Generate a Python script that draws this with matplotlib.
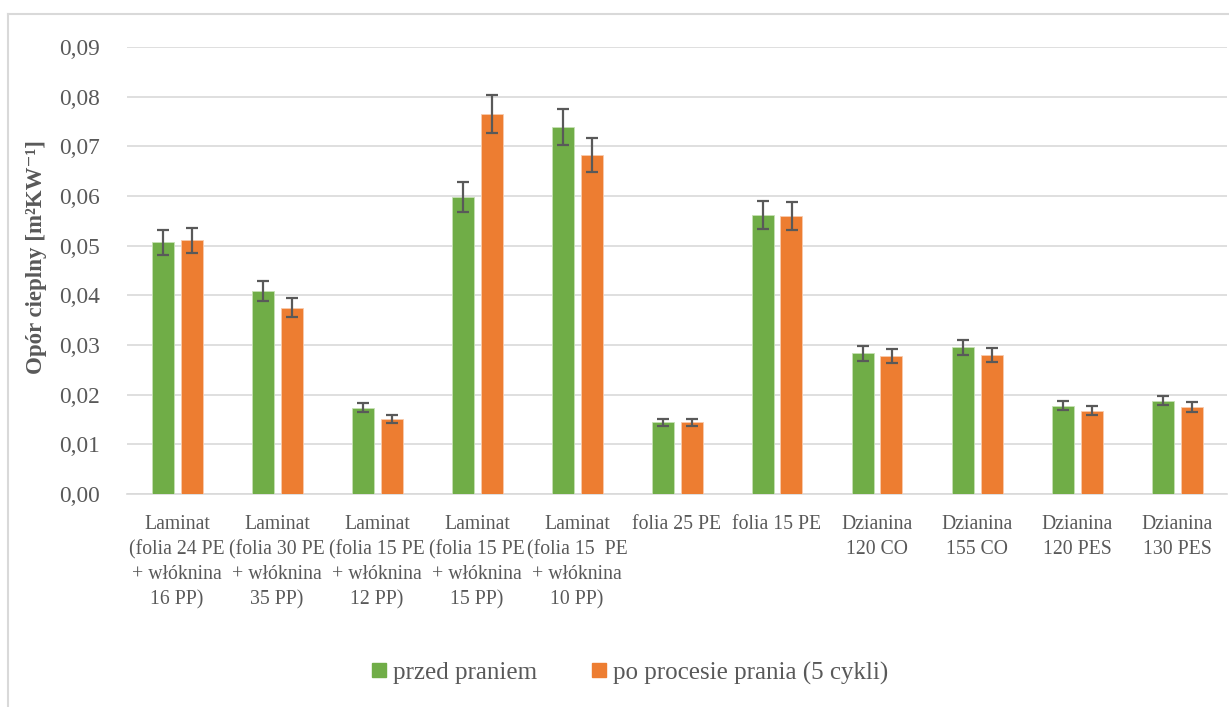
import matplotlib
matplotlib.use("Agg")
import matplotlib.pyplot as plt
from matplotlib.lines import Line2D
import numpy as np

plt.rcParams['font.family'] = ['Liberation Serif', 'DejaVu Serif']

# data
labels = ["Laminat\n(folia 24 PE\n+ włóknina\n16 PP)",
          "Laminat\n(folia 30 PE\n+ włóknina\n35 PP)",
          "Laminat\n(folia 15 PE\n+ włóknina\n12 PP)",
          "Laminat\n(folia 15 PE\n+ włóknina\n15 PP)",
          "Laminat\n(folia 15  PE\n+ włóknina\n10 PP)",
          "folia 25 PE", "folia 15 PE",
          "Dzianina\n120 CO", "Dzianina\n155 CO",
          "Dzianina\n120 PES", "Dzianina\n130 PES"]
przed = [0.0507, 0.0408, 0.0174, 0.0598, 0.0739, 0.0144, 0.0561, 0.0283, 0.0295, 0.0178, 0.0188]
przed_err = [0.0025, 0.0020, 0.00095, 0.0030, 0.0037, 0.00077, 0.0028, 0.0015, 0.0015, 0.00094, 0.00097]
po = [0.0511, 0.0375, 0.0151, 0.0765, 0.0682, 0.0144, 0.0560, 0.0278, 0.0280, 0.0168, 0.0175]
po_err = [0.0025, 0.0019, 0.0008, 0.0039, 0.0034, 0.00077, 0.00285, 0.0014, 0.00145, 0.00087, 0.00094]
yticks = [0.00, 0.01, 0.02, 0.03, 0.04, 0.05, 0.06, 0.07, 0.08, 0.09]
ytick_labels = ['0,00', '0,01', '0,02', '0,03', '0,04', '0,05', '0,06', '0,07', '0,08', '0,09']

green = '#70AD47'
orange = '#ED7D31'
grey = '#595959'
grid = '#D9D9D9'

fig = plt.figure(figsize=(12.29, 7.07), dpi=100)
ax = fig.add_axes([127/1229, 1-494/707, 1100/1229, 447/707])

x = np.arange(len(labels))
w = 0.22
off = 0.145
ekw = dict(ecolor=grey, elinewidth=1.6, capsize=4.5, capthick=1.6)
ax.bar(x-off, przed, w, color=green, edgecolor='#C6E0B4', linewidth=0.6,
       yerr=przed_err, error_kw=ekw, zorder=3)
ax.bar(x+off, po, w, color=orange, edgecolor='#F8CBAD', linewidth=0.6,
       yerr=po_err, error_kw=ekw, zorder=3)

ax.set_xlim(-0.5, len(labels)-0.5)
ax.set_ylim(0, 0.09)
ax.set_yticks(yticks)
ax.set_yticklabels(ytick_labels, fontsize=16.8, color=grey)
ax.set_xticks(x)
ax.set_xticklabels(labels, fontsize=14.2, color=grey, linespacing=1.42)
ax.tick_params(length=0)
ax.tick_params(axis='y', pad=19.5)
ax.tick_params(axis='x', pad=15)
ax.yaxis.grid(True, color=grid, linewidth=1.2, zorder=0)
ax.set_axisbelow(True)
for s in ['top', 'right', 'left']:
    ax.spines[s].set_visible(False)
ax.spines['bottom'].set_color(grid)
ax.spines['bottom'].set_linewidth(1.2)

fig.text(37/1229, 1-257/707, 'Opór cieplny [m²KW⁻¹]', rotation=90, fontsize=16.5,
         fontweight='bold', color=grey, ha='center', va='center')

h1 = Line2D([], [], marker='s', color='none', markerfacecolor=green, markeredgecolor=green, markersize=10)
h2 = Line2D([], [], marker='s', color='none', markerfacecolor=orange, markeredgecolor=orange, markersize=10)
fig.legend([h1, h2], ['przed praniem', 'po procesie prania (5 cykli)'], loc='center',
           bbox_to_anchor=(630/1229, 1-673/707), ncol=2, frameon=False, fontsize=18,
           labelcolor=grey, handlelength=0.6, handletextpad=0.25, columnspacing=2.2)

# chart border
fig.add_artist(Line2D([8/1229, 8/1229], [0, 1-14/707], color=grid, linewidth=1.5))
fig.add_artist(Line2D([8/1229, 1], [1-14/707, 1-14/707], color=grid, linewidth=1.5))

fig.savefig('out.png', dpi=100)
